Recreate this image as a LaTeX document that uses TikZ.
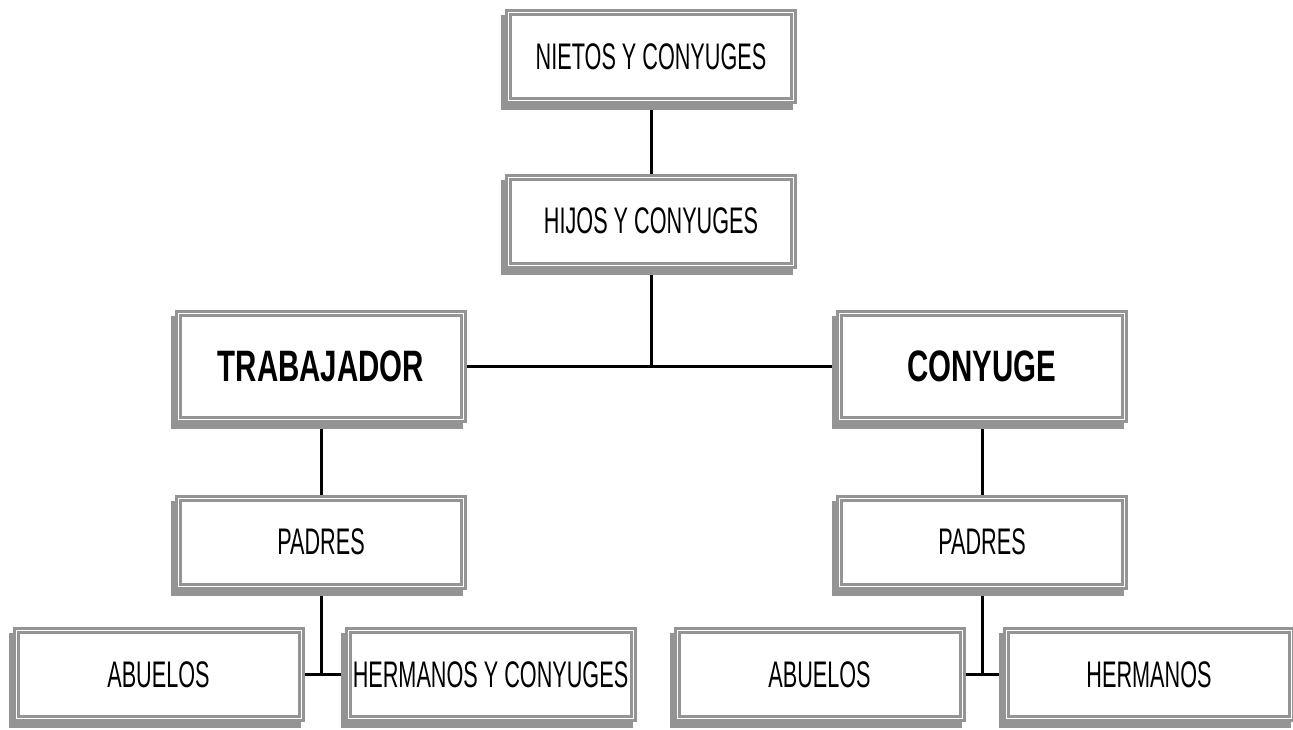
\documentclass[tikz,border=0pt]{standalone}
\usepackage{fontspec}
\setmainfont{Liberation Sans}
\newfontfamily\cajafont[FakeStretch=0.585]{Liberation Sans}
\newfontfamily\grandefont[FakeStretch=0.67]{Liberation Sans}
\usepackage{tikz}
\usetikzlibrary{backgrounds,positioning}
\definecolor{marco}{RGB}{148,148,148}

\begin{document}
\begin{tikzpicture}[x=1pt, y=1pt, inner sep=2pt,
    caja/.style={draw=marco, double=white, double distance=1pt, line width=3pt, fill=white,
      minimum width=285pt, minimum height=88pt,
      font=\cajafont\fontsize{37}{40}\selectfont,
      preaction={draw=marco, fill=marco, line width=7pt, transform canvas={shift={(-4pt,-6pt)}}}},
    grande/.style={caja, minimum height=106pt, font=\grandefont\bfseries\fontsize{44}{48}\selectfont},
    linea/.style={draw=black, line width=3pt}]

      \useasboundingbox (0,0) rectangle (1293,-729);

      \node[caja] (nietos) at (651,-56.5) {NIETOS Y CONYUGES};
      \node[caja] (hijos) [below of=nietos, node distance=164.5pt] {HIJOS Y CONYUGES};
      \node[grande] (trab) at (321,-366) {TRABAJADOR};
      \node[grande] (cony) at (982,-366) {CONYUGE};
      \node[caja] (padresT) [below of=trab, node distance=176pt] {PADRES};
      \node[caja] (padresC) [below of=cony, node distance=176pt] {PADRES};
      \node[caja] (abuelosT) at (158.5,-674.5) {ABUELOS};
      \node[caja] (hermanosT) at (490.5,-674.5) {HERMANOS Y CONYUGES};
      \node[caja] (abuelosC) at (819.5,-674.5) {ABUELOS};
      \node[caja] (hermanosC) at (1149,-674.5) {HERMANOS};

      \begin{scope}[on background layer]
      \path[linea]
      (nietos) -- (hijos)
      (hijos) -- (hijos |- trab)
      (trab) -- (cony)

      (trab) -- (padresT)
      (padresT) -- (padresT |- abuelosT)
      (abuelosT) -- (hermanosT)

      (cony) -- (padresC)
      (padresC) -- (padresC |- abuelosC)
      (abuelosC) -- (hermanosC);
      \end{scope}
    \end{tikzpicture}
\end{document}
